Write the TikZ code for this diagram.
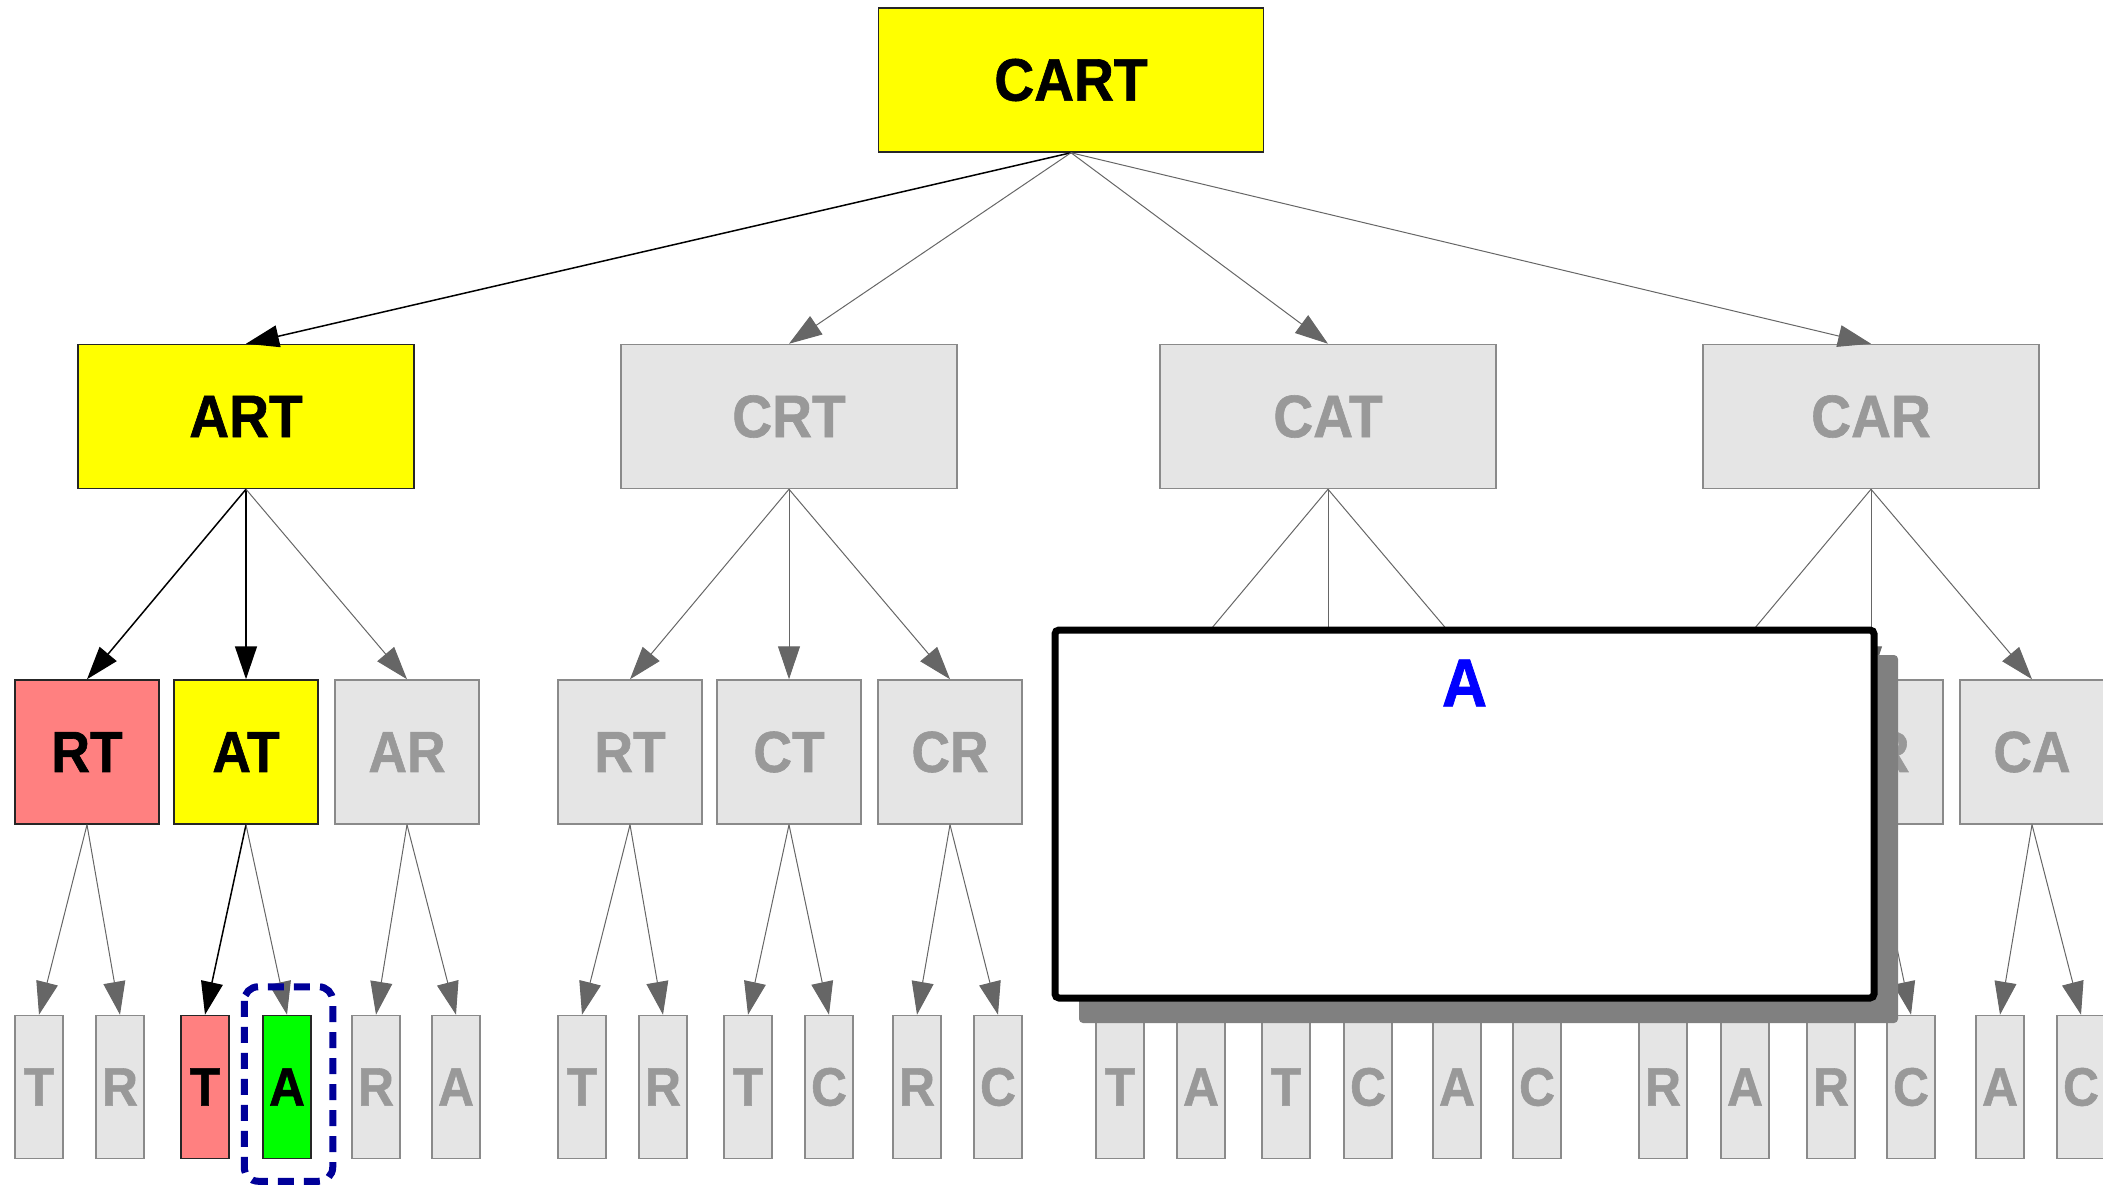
\documentclass[tikz,border=0pt]{standalone}
\usepackage{fontspec}
\setmainfont{Liberation Sans}[FakeStretch=0.92, BoldFeatures={FakeBold=1}]
\usetikzlibrary{arrows.meta,shadows}

\definecolor{hiyellow}{HTML}{FFFF00}
\definecolor{hired}{HTML}{FF8080}
\definecolor{higreen}{HTML}{00FF00}
\definecolor{dimfill}{HTML}{E5E5E5}
\definecolor{dimtext}{HTML}{999999}
\definecolor{dimline}{HTML}{8A8A8A}
\definecolor{edgegray}{HTML}{666666}
\definecolor{shadowgray}{HTML}{808080}
\definecolor{navy}{HTML}{000099}
\definecolor{markblue}{HTML}{0000FF}

\tikzset{
  box/.style={rectangle, draw, inner sep=0pt, line width=1.5pt},
  dim/.style={fill=dimfill, draw=dimline, text=dimtext},
  hot/.style={fill=#1, draw=black!85, text=black},
  rootbox/.style={box, minimum width=385pt, minimum height=144pt,
    font=\bfseries\fontsize{60}{60}\selectfont},
  wordbox/.style={box, minimum width=336pt, minimum height=144pt,
    font=\bfseries\fontsize{60}{60}\selectfont},
  pairbox/.style={box, minimum width=144pt, minimum height=144pt,
    font=\bfseries\fontsize{58}{58}\selectfont},
  charbox/.style={box, minimum width=48pt, minimum height=143pt,
    font=\bfseries\fontsize{54}{54}\selectfont},
  link/.style={draw=edgegray, line width=1pt,
    -{Triangle[length=33pt,width=22pt]}},
  hotlink/.style={draw=black, line width=1.5pt,
    -{Triangle[length=33pt,width=22pt]}},
  panel/.style={rectangle, fill=white, draw=black, line width=7pt,
    rounded corners=4pt, minimum width=819pt, minimum height=368pt,
    drop shadow={fill=shadowgray, opacity=1, shadow xshift=24pt,
      shadow yshift=-25pt, rounded corners=4pt}},
  focus/.style={draw=navy, line width=7pt, dash pattern=on 16pt off 10pt,
    rounded corners=14pt},
}

\begin{document}
\begin{tikzpicture}[x=1pt,y=-1pt]
\useasboundingbox (0,0) rectangle (2103,1185);
\clip (0,0) rectangle (2103,1185);

% root
\node[rootbox, hot=hiyellow] (cart) at (1071,80) {CART};

% first level: one letter removed
\node[wordbox, hot=hiyellow] (art) at (246,416.5) {ART};
\node[wordbox, dim] (crt) at (789,416.5) {CRT};
\node[wordbox, dim] (cat) at (1328,416.5) {CAT};
\node[wordbox, dim] (car) at (1871,416.5) {CAR};

% second level
\node[pairbox, hot=hired]    (art-rt) at (87,752)  {RT};
\node[pairbox, hot=hiyellow] (art-at) at (246,752) {AT};
\node[pairbox, dim]          (art-ar) at (407,752) {AR};

\node[pairbox, dim] (crt-rt) at (630,752) {RT};
\node[pairbox, dim] (crt-ct) at (789,752) {CT};
\node[pairbox, dim] (crt-cr) at (950,752) {CR};

\node[pairbox, dim] (cat-at) at (1169,752) {AT};
\node[pairbox, dim] (cat-ct) at (1328,752) {CT};
\node[pairbox, dim] (cat-ca) at (1489,752) {CA};

\node[pairbox, dim] (car-ar) at (1712,752) {AR};
\node[pairbox, dim] (car-cr) at (1871,752) {CR};
\node[pairbox, dim] (car-ca) at (2032,752) {CA};

% third level: single letters
\node[charbox, dim]          (art-rt-t) at (39,1087)  {T};
\node[charbox, dim]          (art-rt-r) at (120,1087) {R};
\node[charbox, hot=hired]    (art-at-t) at (205,1087) {T};
\node[charbox, hot=higreen]  (art-at-a) at (287,1087) {A};
\node[charbox, dim]          (art-ar-r) at (376,1087) {R};
\node[charbox, dim]          (art-ar-a) at (456,1087) {A};

\node[charbox, dim] (crt-rt-t) at (582,1087) {T};
\node[charbox, dim] (crt-rt-r) at (663,1087) {R};
\node[charbox, dim] (crt-ct-t) at (748,1087) {T};
\node[charbox, dim] (crt-ct-c) at (829,1087) {C};
\node[charbox, dim] (crt-cr-r) at (917,1087) {R};
\node[charbox, dim] (crt-cr-c) at (998,1087) {C};

\node[charbox, dim] (cat-at-t) at (1120,1087) {T};
\node[charbox, dim] (cat-at-a) at (1201,1087) {A};
\node[charbox, dim] (cat-ct-t) at (1286,1087) {T};
\node[charbox, dim] (cat-ct-c) at (1368,1087) {C};
\node[charbox, dim] (cat-ca-a) at (1457,1087) {A};
\node[charbox, dim] (cat-ca-c) at (1537,1087) {C};

\node[charbox, dim] (car-ar-r) at (1663,1087) {R};
\node[charbox, dim] (car-ar-a) at (1745,1087) {A};
\node[charbox, dim] (car-cr-r) at (1831,1087) {R};
\node[charbox, dim] (car-cr-c) at (1911,1087) {C};
\node[charbox, dim] (car-ca-a) at (2000,1087) {A};
\node[charbox, dim] (car-ca-c) at (2081,1087) {C};

% connectors: root to first level
\draw[hotlink] (cart.south) -- (art.north);
\draw[link] (cart.south) -- (crt.north);
\draw[link] (cart.south) -- (cat.north);
\draw[link] (cart.south) -- (car.north);

% first level to second level
\draw[hotlink] (art.south) -- (art-rt.north);
\draw[hotlink] (art.south) -- (art-at.north);
\draw[link]    (art.south) -- (art-ar.north);
\foreach \w/\a/\b/\c in {crt/rt/ct/cr, cat/at/ct/ca, car/ar/cr/ca}{
  \draw[link] (\w.south) -- (\w-\a.north);
  \draw[link] (\w.south) -- (\w-\b.north);
  \draw[link] (\w.south) -- (\w-\c.north);
}

% second level to third level
\draw[link]    (art-rt.south) -- (art-rt-t.north);
\draw[link]    (art-rt.south) -- (art-rt-r.north);
\draw[hotlink] (art-at.south) -- (art-at-t.north);
\draw[link]    (art-at.south) -- (art-at-a.north);
\draw[link]    (art-ar.south) -- (art-ar-r.north);
\draw[link]    (art-ar.south) -- (art-ar-a.north);
\foreach \p/\x/\y in {crt-rt/t/r, crt-ct/t/c, crt-cr/r/c,
                      cat-at/t/a, cat-ct/t/c, cat-ca/a/c,
                      car-ar/r/a, car-cr/r/c, car-ca/a/c}{
  \draw[link] (\p.south) -- (\p-\x.north);
  \draw[link] (\p.south) -- (\p-\y.north);
}

% dashed frame around the chosen letter
\draw[focus] ([shift={(-18,-28)}]art-at-a.north west)
  rectangle ([shift={(21,22)}]art-at-a.south east);

% overlay panel with its shadow
\node[panel] (overlay) at (1464.5,814) {};
\node[text=markblue, font=\bfseries\fontsize{68}{68}\selectfont]
  (overlaymark) at (1464.5,683) {A};
\end{tikzpicture}
\end{document}
